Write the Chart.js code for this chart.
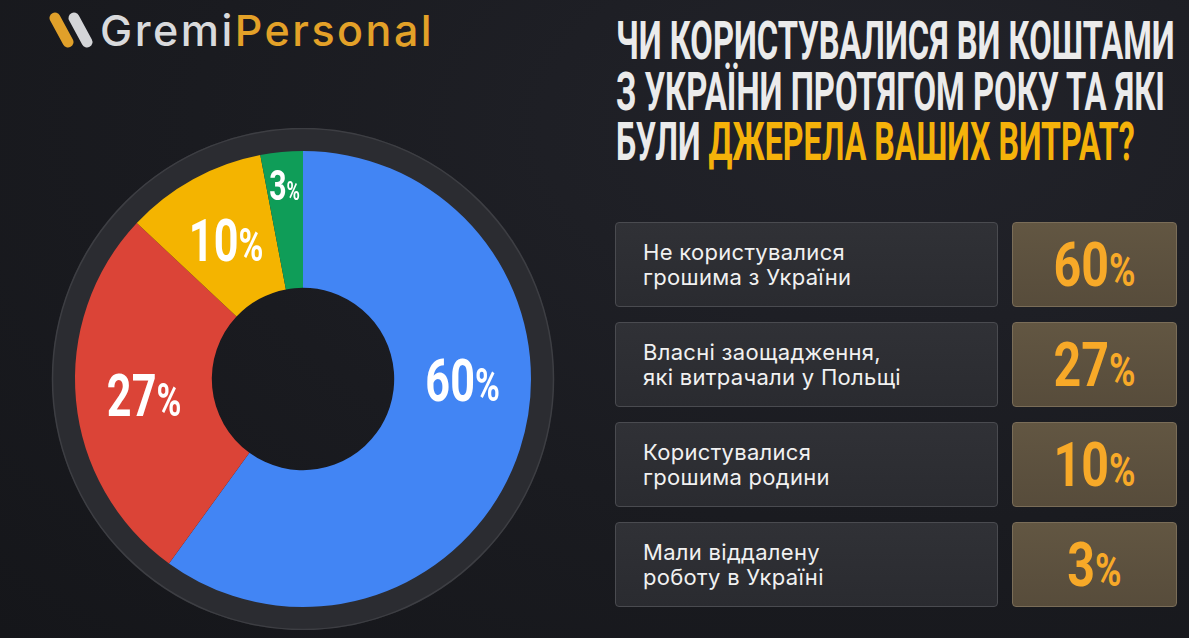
<!DOCTYPE html>
<html lang="uk">
<head>
<meta charset="utf-8">
<script src="https://cdn.jsdelivr.net/npm/chart.js@4.4.1/dist/chart.umd.min.js"></script>
<style>
  html, body { margin:0; padding:0; }
  body { width:1189px; height:638px; overflow:hidden; position:relative;
    background: radial-gradient(ellipse at 75% 20%, #22232a 0%, #1a1b20 55%, #15161a 100%);
    font-family: Roboto, "Noto Sans", sans-serif; }
  #logo { position:absolute; left:48px; top:6px; height:48px; display:flex; align-items:center; }
  #logo .txt { font-family: Inter, "Open Sans", sans-serif; font-weight:500; font-size:43px; letter-spacing:2.5px; margin-left:4px; }
  #logo .g { color:#d9dadc; }
  #logo .p { color:#e3a128; }
  .title { position:absolute; left:616px; font-family: Roboto, sans-serif; font-weight:700; font-size:54px;
    color:#ebebeb; white-space:nowrap; transform-origin:left top; line-height:54px; }
  .title .y { color:#f5b20a; }
  .row { position:absolute; left:615px; width:383px; height:85px; box-sizing:border-box;
    background:linear-gradient(180deg,#303136,#2a2b30); border:1px solid #4a4b50; border-radius:4px; }
  .row .lab { position:absolute; left:27px; top:17px; color:#f1f1f1; font-family: Inter, Roboto, sans-serif;
    font-size:22px; line-height:25px; letter-spacing:0.3px; }
  .val { position:absolute; left:1012px; width:165px; height:85px; box-sizing:border-box;
    background:linear-gradient(180deg,#625642,#574c3b); border:1px solid #7a6d58; border-radius:4px; }
  .val span { position:absolute; left:0; right:0; top:5px; text-align:center; color:#f7a928;
    font-family: Roboto, sans-serif; font-weight:700; font-size:62px; line-height:74px;
    transform:scaleX(0.78); }
  .val small { font-size:46px; }
  #wrap { position:absolute; left:0; top:128px; width:606px; height:502px; }
</style>
</head>
<body>
<div id="logo">
  <svg width="48" height="40" viewBox="0 0 48 40">
    <line x1="7" y1="8" x2="20" y2="32" stroke="#e0a02a" stroke-width="11" stroke-linecap="round"/>
    <line x1="26" y1="8" x2="39" y2="32" stroke="#d4d5d8" stroke-width="11" stroke-linecap="round"/>
  </svg>
  <div class="txt"><span class="g">Gremi</span><span class="p">Personal</span></div>
</div>
<div class="title" id="t1" style="top:14px">ЧИ КОРИСТУВАЛИСЯ ВИ КОШТАМИ</div>
<div class="title" id="t2" style="top:65px">З УКРАЇНИ ПРОТЯГОМ РОКУ ТА ЯКІ</div>
<div class="title" id="t3" style="top:115px">БУЛИ <span class="y">ДЖЕРЕЛА ВАШИХ ВИТРАТ?</span></div>
<div id="rows"></div>
<div id="wrap"><canvas id="pie"></canvas></div>
<script>
const categories = [
  ['Не користувалися', 'грошима з України'],
  ['Власні заощадження,', 'які витрачали у Польщі'],
  ['Користувалися', 'грошима родини'],
  ['Мали віддалену', 'роботу в Україні']
];
const values = [60, 27, 10, 3];
const colors = ['#4285f4', '#db4437', '#f4b400', '#0f9d58'];

// condense title lines to target widths
const titleWidths = { t1: 559, t2: 549, t3: 519 };
Object.entries(titleWidths).forEach(([id, w]) => {
  const el = document.getElementById(id);
  el.style.transform = `scaleX(${w / el.scrollWidth})`;
});

// right hand rows
const rows = document.getElementById('rows');
rows.innerHTML = categories.map((c, i) => {
  const top = 222 + i * 100;
  return `<div class="row" style="top:${top}px"><div class="lab">${c.join('<br>')}</div></div>
    <div class="val" style="top:${top}px"><span>${values[i]}<small>%</small></span></div>`;
}).join('');

const ringPlugin = {
  id: 'ring',
  beforeDatasetsDraw(chart){
    const arc = chart.getDatasetMeta(0).data[0];
    if (!arc) return;
    const { x, y, outerRadius } = arc;
    const ctx = chart.ctx;
    ctx.save();
    ctx.beginPath();
    ctx.arc(x, y, outerRadius + 23, 0, Math.PI * 2);
    ctx.arc(x, y, outerRadius - 2, 0, Math.PI * 2, true);
    ctx.fillStyle = '#2b2c31';
    ctx.fill('evenodd');
    ctx.strokeStyle = '#3d3e43';
    ctx.lineWidth = 1.5;
    ctx.beginPath();
    ctx.arc(x, y, outerRadius + 22.5, 0, Math.PI * 2);
    ctx.stroke();
    ctx.restore();
  }
};

// label placement tweaks (angle shift in degrees, radius factor, size)
const labelStyle = [
  { shift: -18, r: 0.5, size: 60, pct: 0.78 },
  { shift: 0, r: 0.5, size: 60, pct: 0.78 },
  { shift: 0, r: 0.5, size: 60, pct: 0.78 },
  { shift: 0, r: 0.76, size: 42, pct: 0.6 }
];

const labelPlugin = {
  id: 'sliceLabels',
  afterDatasetsDraw(chart){
    const ctx = chart.ctx;
    chart.getDatasetMeta(0).data.forEach((arc, i) => {
      const st = labelStyle[i];
      const mid = (arc.startAngle + arc.endAngle) / 2 + st.shift * Math.PI / 180;
      const rad = arc.innerRadius + (arc.outerRadius - arc.innerRadius) * st.r;
      const px = arc.x + Math.cos(mid) * rad;
      const py = arc.y + Math.sin(mid) * rad;
      const num = String(values[i]);
      ctx.save();
      ctx.translate(px, py);
      ctx.scale(0.72, 1);
      ctx.fillStyle = '#ffffff';
      ctx.textBaseline = 'alphabetic';
      ctx.font = `700 ${st.size}px Roboto`;
      const wn = ctx.measureText(num).width;
      ctx.font = `700 ${st.size * st.pct}px Roboto`;
      const wp = ctx.measureText('%').width;
      const start = -(wn + wp) / 2;
      const base = st.size * 0.36;
      ctx.font = `700 ${st.size}px Roboto`;
      ctx.textAlign = 'left';
      ctx.fillText(num, start, base);
      ctx.font = `700 ${st.size * st.pct}px Roboto`;
      ctx.fillText('%', start + wn, base);
      ctx.restore();
    });
  }
};

new Chart(document.getElementById('pie'), {
  type: 'doughnut',
  data: {
    labels: categories.map(c => c.join(' ')),
    datasets: [{ data: values, backgroundColor: colors, borderWidth: 0 }]
  },
  options: {
    responsive: true,
    maintainAspectRatio: false,
    animation: false,
    cutout: '40%',
    layout: { padding: 23 },
    plugins: { legend: { display: false }, tooltip: { enabled: false } }
  },
  plugins: [ringPlugin, labelPlugin]
});
</script>
</body>
</html>
